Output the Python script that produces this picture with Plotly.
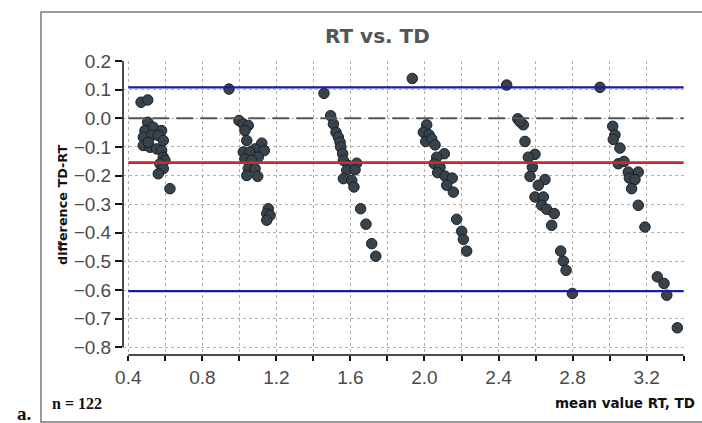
import plotly.graph_objects as go

# ---- data ----
mean_rt_td = [
    # cluster ~0.5
    0.469, 0.505, 0.505, 0.490, 0.535, 0.580, 0.481, 0.526, 0.562, 0.589, 0.481,
    0.517, 0.553, 0.580, 0.508, 0.589, 0.598, 0.571, 0.589, 0.562, 0.625,
    # cluster ~1.05
    0.944, 0.998, 1.021, 1.048, 1.030, 1.040, 1.121, 1.085, 1.135, 1.021, 1.057,
    1.102, 1.030, 1.067, 1.048, 1.085, 1.040, 1.099, 1.156, 1.148, 1.166, 1.148,
    # cluster ~1.55
    1.457, 1.493, 1.508, 1.522, 1.535, 1.544, 1.548, 1.558, 1.562, 1.634,
    1.589, 1.580, 1.625, 1.562, 1.607, 1.619, 1.655, 1.684, 1.715, 1.737,
    # cluster ~2.05
    1.934, 2.012, 1.994, 2.025, 2.007, 2.039, 2.057, 2.107, 2.066, 2.053,
    2.084, 2.071, 2.111, 2.150, 2.120, 2.156, 2.174, 2.201, 2.210, 2.228,
    # cluster ~2.6
    2.444, 2.504, 2.534, 2.516, 2.543, 2.597, 2.561, 2.583, 2.570, 2.651, 2.615,
    2.597, 2.642, 2.633, 2.660, 2.701, 2.687, 2.736, 2.750, 2.765, 2.799,
    # cluster ~3.1
    2.948, 3.017, 3.029, 3.020, 3.056, 3.047, 3.078, 3.101, 3.155,
    3.107, 3.137, 3.119, 3.155, 3.191, 3.258, 3.294, 3.309, 3.366,
]
diff_td_rt = [
    0.056, 0.064, -0.014, -0.043, -0.031, -0.043, -0.066, -0.060, -0.060, -0.078, -0.095,
    -0.101, -0.107, -0.113, -0.084, -0.136, -0.147, -0.159, -0.176, -0.194, -0.246,
    0.102, -0.008, -0.020, -0.025, -0.043, -0.078, -0.087, -0.107, -0.113, -0.118, -0.118,
    -0.136, -0.142, -0.147, -0.176, -0.176, -0.200, -0.203, -0.316, -0.333, -0.339, -0.356,
    0.087, 0.009, -0.020, -0.049, -0.066, -0.084, -0.101, -0.124, -0.147, -0.157,
    -0.165, -0.182, -0.180, -0.211, -0.217, -0.240, -0.316, -0.370, -0.438, -0.482,
    0.139, -0.023, -0.049, -0.058, -0.081, -0.072, -0.093, -0.124, -0.136, -0.159,
    -0.171, -0.190, -0.202, -0.209, -0.234, -0.258, -0.353, -0.395, -0.423, -0.464,
    0.116, -0.002, -0.023, -0.012, -0.081, -0.126, -0.136, -0.171, -0.203, -0.214, -0.234,
    -0.275, -0.275, -0.304, -0.318, -0.333, -0.374, -0.464, -0.499, -0.531, -0.612,
    0.108, -0.028, -0.058, -0.074, -0.104, -0.159, -0.151, -0.188, -0.188,
    -0.209, -0.214, -0.246, -0.304, -0.380, -0.554, -0.577, -0.618, -0.732,
]

line_x = [0.4, 3.4]
upper_limit = 0.108
mean_difference = -0.155
lower_limit = -0.604
zero_level = 0.0

x_tick_vals = [0.4, 0.6, 0.8, 1.0, 1.2, 1.4, 1.6, 1.8, 2.0, 2.2, 2.4, 2.6, 2.8, 3.0, 3.2, 3.4]
x_tick_text = ["0.4", "", "0.8", "", "1.2", "", "1.6", "", "2.0", "", "2.4", "", "2.8", "", "3.2", ""]
y_tick_vals = [0.2, 0.1, 0.0, -0.1, -0.2, -0.3, -0.4, -0.5, -0.6, -0.7, -0.8]

title_text = "RT vs. TD"
x_title = "mean value RT, TD"
y_title = "difference TD-RT"
n_text = "n = 122"
panel_label = "a."

# ---- figure ----
fig = go.Figure()

fig.add_trace(go.Scatter(
    x=mean_rt_td, y=diff_td_rt, mode="markers",
    marker=dict(size=10.5, color="#38434c", line=dict(color="#1b2025", width=1)),
    showlegend=False, hoverinfo="x+y",
))

fig.add_trace(go.Scatter(x=line_x, y=[zero_level] * 2, mode="lines",
                         line=dict(color="#555555", width=2, dash="17px,7px"),
                         showlegend=False, hoverinfo="skip"))
fig.add_trace(go.Scatter(x=line_x, y=[upper_limit] * 2, mode="lines",
                         line=dict(color="#1c1ca0", width=2.3),
                         showlegend=False, hoverinfo="skip"))
fig.add_trace(go.Scatter(x=line_x, y=[mean_difference] * 2, mode="lines",
                         line=dict(color="#c42a2e", width=2.8),
                         showlegend=False, hoverinfo="skip"))
fig.add_trace(go.Scatter(x=line_x, y=[lower_limit] * 2, mode="lines",
                         line=dict(color="#1c1ca0", width=2.3),
                         showlegend=False, hoverinfo="skip"))

W, H = 702, 423
ml, mr, mt, mb = 123, 18, 61, 68
pw, ph = W - ml - mr, H - mt - mb


def px_x(px):
    return (px - ml) / pw


def px_y(py):
    return (H - mb - py) / ph


tick_font = dict(family="Liberation Sans, Arial, sans-serif", size=19, color="#4a4a4a")

fig.update_layout(
    width=W, height=H,
    margin=dict(l=ml, r=mr, t=mt, b=mb, pad=0),
    paper_bgcolor="white", plot_bgcolor="white",
    showlegend=False,
    xaxis=dict(
        range=[0.3714, 3.402], tickmode="array", tickvals=x_tick_vals, ticktext=x_tick_text,
        ticks="outside", ticklen=5, tickwidth=1.5, tickcolor="#111",
        showgrid=True, gridcolor="#b0b0b0", griddash="dot", gridwidth=1,
        showline=False, zeroline=False, tickfont=tick_font,
    ),
    yaxis=dict(
        range=[-0.827, 0.2], tickmode="array", tickvals=y_tick_vals, tickformat=".1f",
        ticks="outside", ticklen=7, tickwidth=1.5, tickcolor="#111",
        showgrid=True, gridcolor="#b0b0b0", griddash="dot", gridwidth=1,
        showline=False, zeroline=False, tickfont=tick_font,
    ),
    shapes=[
        # outer frame
        dict(type="rect", xref="paper", yref="paper",
             x0=px_x(41), x1=px_x(712), y0=px_y(422), y1=px_y(12),
             line=dict(color="#7a7a7a", width=1.5), fillcolor="rgba(0,0,0,0)", layer="below"),
        # detached axis lines
        dict(type="line", xref="x", yref="paper", x0=0.4, x1=3.4, y0=0, y1=0,
             line=dict(color="#111", width=1.5)),
        dict(type="line", xref="paper", yref="y", x0=0, x1=0, y0=-0.8, y1=0.2,
             line=dict(color="#111", width=1.5)),
    ],
    annotations=[
        dict(text=title_text, xref="paper", yref="paper", x=px_x(377.5), y=px_y(36),
             xanchor="center", yanchor="middle", showarrow=False,
             font=dict(family="DejaVu Sans", size=20, color="#555555", weight="bold")),
        dict(text=y_title, xref="paper", yref="paper", x=px_x(62), y=px_y(205),
             xanchor="center", yanchor="middle", textangle=-90, showarrow=False,
             font=dict(family="DejaVu Sans", size=12.8, color="#111", weight="bold")),
        dict(text=x_title, xref="paper", yref="paper", x=px_x(697), y=px_y(403),
             xanchor="right", yanchor="middle", showarrow=False,
             font=dict(family="DejaVu Sans", size=13.5, color="#111", weight="bold")),
        dict(text=n_text, xref="paper", yref="paper", x=px_x(50), y=px_y(403),
             xanchor="left", yanchor="middle", showarrow=False,
             font=dict(family="Liberation Serif", size=16, color="#111", weight="bold")),
        dict(text=panel_label, xref="paper", yref="paper", x=px_x(24), y=px_y(413),
             xanchor="center", yanchor="middle", showarrow=False,
             font=dict(family="Liberation Serif", size=19, color="#111", weight="bold")),
    ],
)

fig.write_html(
    "out.html",
    config={"displayModeBar": False},
    post_script="document.body.style.margin='0';document.body.style.overflow='hidden';",
)
